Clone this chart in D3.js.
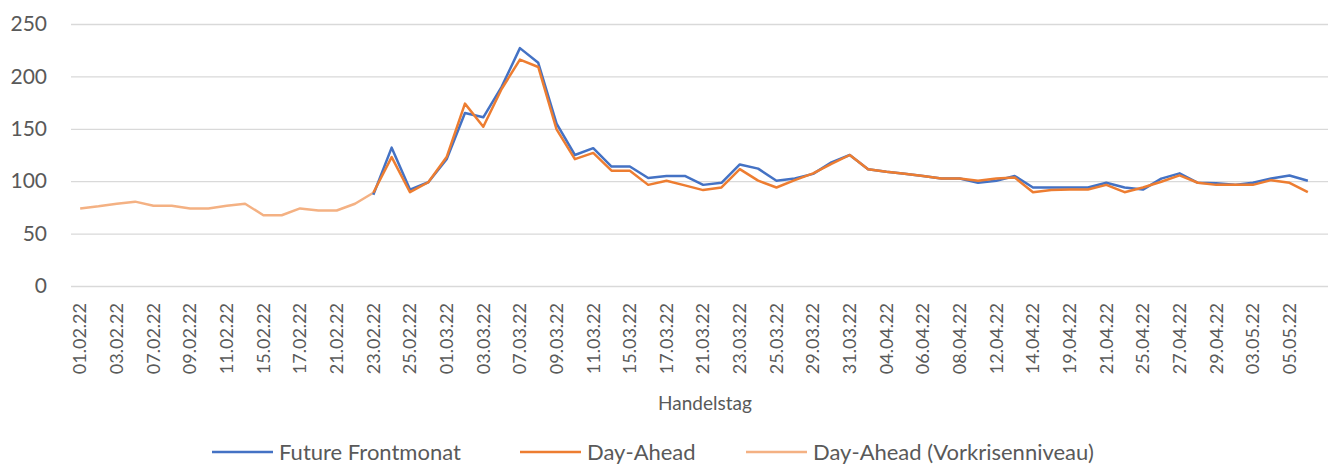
<!DOCTYPE html>
<html>
<head>
<meta charset="utf-8">
<script src="https://cdn.jsdelivr.net/npm/d3@7"></script>
<style>
  body { margin: 0; background: #fff; }
  svg { font-family: Lato, "Open Sans", sans-serif; }
</style>
</head>
<body>
<svg width="1328" height="465"></svg>
<script>
// trading days, 01.02.22 - 06.05.22
const days = [
  "01.02.22","02.02.22","03.02.22","04.02.22","07.02.22","08.02.22","09.02.22","10.02.22","11.02.22","14.02.22",
  "15.02.22","16.02.22","17.02.22","18.02.22","21.02.22","22.02.22","23.02.22","24.02.22","25.02.22","28.02.22",
  "01.03.22","02.03.22","03.03.22","04.03.22","07.03.22","08.03.22","09.03.22","10.03.22","11.03.22","14.03.22",
  "15.03.22","16.03.22","17.03.22","18.03.22","21.03.22","22.03.22","23.03.22","24.03.22","25.03.22","28.03.22",
  "29.03.22","30.03.22","31.03.22","01.04.22","04.04.22","05.04.22","06.04.22","07.04.22","08.04.22","11.04.22",
  "12.04.22","13.04.22","14.04.22","18.04.22","19.04.22","20.04.22","21.04.22","22.04.22","25.04.22","26.04.22",
  "27.04.22","28.04.22","29.04.22","02.05.22","03.05.22","04.05.22","05.05.22","06.05.22"
];

const preCrisis = [74, 76, 78.5, 80.5, 76.5, 76.5, 74, 74, 76.5, 78.5,
  67.5, 67.5, 74, 72, 72, 78.5, 89];

// from 23.02.22 on
const futureFront = [87, 132, 92, 99, 121, 165, 161, 190, 227, 213,
  155, 125, 131.5, 114, 114, 103, 105, 105, 96.5, 98.5,
  116, 112, 100.5, 102.5, 107, 118, 125, 111.5, 109, 107,
  105, 102.5, 102.5, 98.5, 100.5, 105, 94, 94, 94, 94,
  98.5, 94, 92, 102.5, 107.5, 98.5, 98, 96.5, 98.5, 102.5,
  105.5, 100.5];

const dayAhead = [89, 123, 89.5, 99, 123, 174, 152, 188, 216, 209,
  149.5, 121, 127, 110, 110, 96.5, 100.5, 96, 91.5, 94,
  111.5, 100.5, 94, 101, 107.5, 116.5, 125, 111.5, 109, 107,
  105, 102.5, 102.5, 100.5, 102.5, 103.5, 89.5, 91.5, 92, 92,
  96.5, 89.5, 94, 99.5, 105.5, 98.5, 96.5, 96.5, 96.5, 101,
  98.5, 89.5];

const yTicks = [0, 50, 100, 150, 200, 250];
const startIdx = 16;

const svg = d3.select("svg");
const textColor = "#595959";

const x = d3.scaleBand().domain(days).range([71, 1317]);
const y = d3.scaleLinear().domain([0, 250]).range([286, 24]);
const cx = d => x(d) + x.bandwidth() / 2;

// grid + y labels
const yAxis = svg.append("g")
  .attr("transform", "translate(71,0)")
  .call(d3.axisLeft(y).tickValues(yTicks).tickSize(-(1328 - 71)).tickPadding(24));
yAxis.select(".domain").remove();
yAxis.selectAll(".tick line").attr("stroke", "#d9d9d9").attr("stroke-width", 1.3);
yAxis.selectAll(".tick text")
  .attr("fill", textColor).style("font-size", "21px")
  .attr("font-family", "Lato, sans-serif");

// x labels, every second day
const xAxis = svg.append("g")
  .attr("transform", "translate(0,286)")
  .call(d3.axisBottom(x).tickValues(days.filter((d, i) => i % 2 === 0)).tickSize(0));
xAxis.select(".domain").remove();
xAxis.selectAll(".tick text")
  .attr("fill", textColor).style("font-size", "18px")
  .attr("font-family", "Lato, sans-serif")
  .attr("text-anchor", "end")
  .attr("transform", "rotate(-90)")
  .attr("x", -17).attr("y", 0).attr("dy", "0.35em");

svg.append("text")
  .attr("x", 705).attr("y", 410)
  .attr("text-anchor", "middle")
  .attr("fill", textColor).style("font-size", "19px")
  .text("Handelstag");

const line = d3.line().x(d => cx(d[0])).y(d => y(d[1]));

const series = [
  { name: "Future Frontmonat", color: "#4472C4", pts: futureFront.map((v, i) => [days[startIdx + i], v]) },
  { name: "Day-Ahead", color: "#ED7D31", pts: dayAhead.map((v, i) => [days[startIdx + i], v]) },
  { name: "Day-Ahead (Vorkrisenniveau)", color: "#F4B183", pts: preCrisis.map((v, i) => [days[i], v]) }
];

// draw order: pre-crisis, future, day-ahead on top
[series[2], series[0], series[1]].forEach(s => {
  svg.append("path")
    .attr("d", line(s.pts))
    .attr("fill", "none")
    .attr("stroke", s.color)
    .attr("stroke-width", 2.5)
    .attr("stroke-linejoin", "round");
});

// legend
const legendX = [212, 520, 746];
series.forEach((s, i) => {
  const g = svg.append("g").attr("transform", `translate(${legendX[i]},452)`);
  g.append("line").attr("x1", 0).attr("x2", 61).attr("stroke", s.color).attr("stroke-width", 2.5);
  g.append("text").attr("x", 67).attr("dy", "0.35em")
    .attr("fill", textColor).style("font-size", "22px")
    .text(s.name);
});
</script>
</body>
</html>
